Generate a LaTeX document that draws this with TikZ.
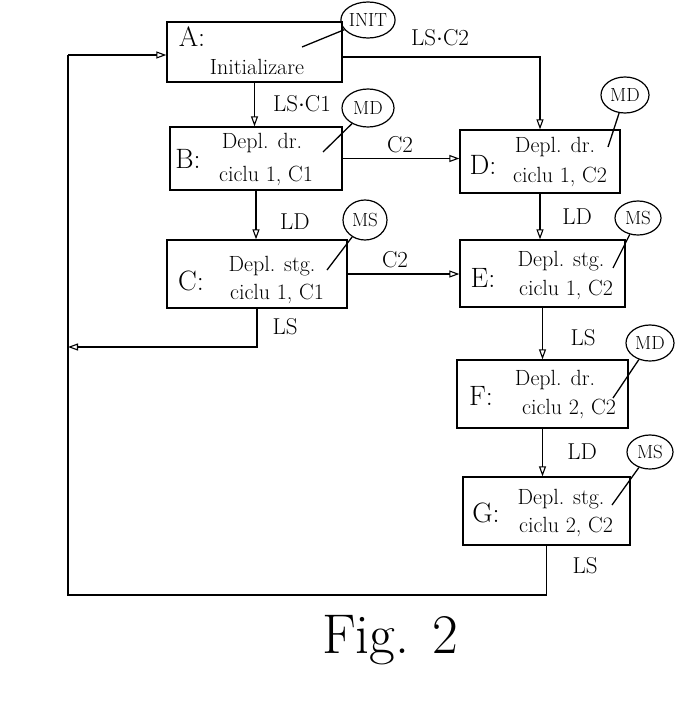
\documentclass[tikz,border=0pt]{standalone}
\usepackage{fontspec}
\usetikzlibrary{shapes.geometric,arrows.meta}
\begin{document}
\begin{tikzpicture}[x=1pt,y=-1pt,
  box/.style={draw,line width=1.3pt,inner sep=0pt},
  conn/.style={line width=1.3pt},
  arr/.style={conn,-{Triangle[open,length=10pt,width=7pt,line width=1.1pt]}},
  ell/.style={draw,ellipse,line width=1.2pt,inner sep=0pt,font=\fontsize{19}{21}\selectfont},
  txt/.style={inner sep=1pt,font=\fontsize{22}{24}\selectfont},
  let/.style={inner sep=1pt,font=\fontsize{28}{30}\selectfont},
  lbl/.style={inner sep=1pt,font=\fontsize{23}{25}\selectfont}]
\useasboundingbox (0,0) rectangle (690,704);
% boxes
\node[box,minimum width=175pt,minimum height=60pt] (A) at (254.5,52) {};
\node[box,minimum width=172pt,minimum height=63pt] (B) at (256,158.5) {};
\node[box,minimum width=180pt,minimum height=68pt] (C) at (257,274) {};
\node[box,minimum width=160pt,minimum height=63pt] (D) at (540,161.5) {};
\node[box,minimum width=165pt,minimum height=67pt] (E) at (542.5,273.5) {};
\node[box,minimum width=171pt,minimum height=68pt] (F) at (542.5,394) {};
\node[box,minimum width=167pt,minimum height=68pt] (G) at (546.5,511) {};
% box texts
\node[let] (tA) at (192,37) {A:};
\node[txt] (tA2) at (257,67) {Initializare};
\node[let] (tB) at (188,159) {B:};
\node[txt] (tB1) at (262,143) {Depl. dr.};
\node[txt] (tB2) at (266,176) {ciclu 1, C1};
\node[let] (tC) at (191,281) {C:};
\node[txt] (tC1) at (272,266) {Depl. stg.};
\node[txt] (tC2) at (277,294) {ciclu 1, C1};
\node[let] (tD) at (483,165) {D:};
\node[txt] (tD1) at (555,147) {Depl. dr.};
\node[txt] (tD2) at (560,177) {ciclu 1, C2};
\node[let] (tE) at (483,278) {E:};
\node[txt] (tE1) at (561,261) {Depl. stg.};
\node[txt] (tE2) at (566,290) {ciclu 1, C2};
\node[let] (tF) at (481,396) {F:};
\node[txt] (tF1) at (555,380) {Depl. dr.};
\node[txt] (tF2) at (569,409) {ciclu 2, C2};
\node[let] (tG) at (486,513) {G:};
\node[txt] (tG1) at (561,499) {Depl. stg.};
\node[txt] (tG2) at (566,527) {ciclu 2, C2};
% ellipses
\node[ell,minimum width=52pt,minimum height=36pt] (initE) at (368,20) {INIT};
\node[ell,minimum width=52pt,minimum height=38pt] (mdB) at (368,108) {MD};
\node[ell,minimum width=44pt,minimum height=40pt] (msC) at (365,220) {MS};
\node[ell,minimum width=48pt,minimum height=36pt] (mdD) at (625,95) {MD};
\node[ell,minimum width=46pt,minimum height=34pt] (msE) at (638,218) {MS};
\node[ell,minimum width=48pt,minimum height=36pt] (mdF) at (650,343) {MD};
\node[ell,minimum width=46pt,minimum height=34pt] (msG) at (650,452) {MS};
% pointer ends
\coordinate (pA) at (302,47);
\coordinate (pB) at (323,152);
\coordinate (pC) at (327,270);
\coordinate (pD) at (608,147);
\coordinate (pE) at (613,268);
\coordinate (pF) at (613,398);
\coordinate (pG) at (612,505);
\draw[conn] (initE) -- (pA);
\draw[conn] (mdB) -- (pB);
\draw[conn] (msC) -- (pC);
\draw[conn] (mdD) -- (pD);
\draw[conn] (msE) -- (pE);
\draw[conn] (mdF) -- (pF);
\draw[conn] (msG) -- (pG);
% connectors
\draw[arr] (A.south) -- (A.south |- B.north);
\draw[arr] (B.south) -- (B.south |- C.north);
\draw[arr] ([yshift=-5pt]A.east) -| (D.north);
\draw[arr] (B.east) -- (B.east -| D.west);
\draw[arr] (C.east) -- (C.east -| E.west);
\draw[arr] (D.south) -- (D.south |- E.north);
\draw[arr] (E.south) -- (E.south |- F.north);
\draw[arr] (F.south) -- (F.south |- G.north);
\coordinate (gb) at (546.5,595);
\coordinate (lb) at (68,595);
\coordinate (lt) at (68,55);
\coordinate (cl) at (68,347);
\draw[conn] (G.south) -- (G.south |- gb) -- (lb) -- (lt);
\draw[arr] (lt) -- (lt -| A.west);
\draw[arr] (C.south) |- (cl);
% labels
\node[lbl] (l1) at (440,38) {LS$\cdot$C2};
\node[lbl] (l2) at (302,104) {LS$\cdot$C1};
\node[lbl] (l3) at (400,145) {C2};
\node[lbl] (l4) at (295,222) {LD};
\node[lbl] (l5) at (395,260) {C2};
\node[lbl] (l6) at (285,327) {LS};
\node[lbl] (l7) at (577,217) {LD};
\node[lbl] (l8) at (583,338) {LS};
\node[lbl] (l9) at (582,452) {LD};
\node[lbl] (l10) at (585,566) {LS};
% caption
\node[inner sep=0pt,font=\fontsize{56}{60}\selectfont] (cap) at (390,640) {Fig. 2};
\end{tikzpicture}
\end{document}
